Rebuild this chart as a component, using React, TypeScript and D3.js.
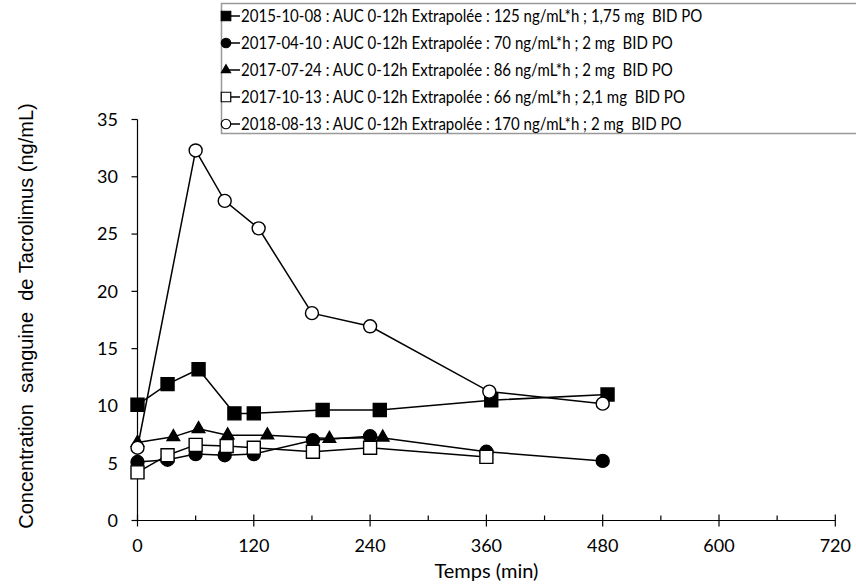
import React, { useRef, useEffect } from 'react';
import * as d3 from 'd3';

// times (min) and concentrations (ng/mL)
const t2015 = [0, 31, 63, 100, 120, 191, 250, 365, 485];
const c2015 = [10.1, 11.9, 13.2, 9.35, 9.35, 9.65, 9.65, 10.5, 11.0];

const t2017a = [0, 31, 60, 90, 120, 181, 240, 360, 480];
const c2017a = [5.1, 5.3, 5.8, 5.7, 5.8, 7.0, 7.35, 6.0, 5.2];

const t2017b = [0, 37, 63, 93, 134, 198, 253];
const c2017b = [6.8, 7.3, 8.0, 7.45, 7.45, 7.15, 7.25];

const t2017c = [0, 31, 60, 92, 120, 181, 240, 360];
const c2017c = [4.2, 5.7, 6.6, 6.5, 6.35, 6.0, 6.35, 5.55];

const t2018 = [0, 60, 90, 125, 180, 240, 363, 480];
const c2018 = [6.35, 32.3, 27.9, 25.5, 18.1, 16.95, 11.25, 10.2];

const seriesLabels = [
  '2015-10-08 : AUC 0-12h Extrapolée : 125 ng/mL*h ; 1,75 mg  BID PO',
  '2017-04-10 : AUC 0-12h Extrapolée : 70 ng/mL*h ; 2 mg  BID PO',
  '2017-07-24 : AUC 0-12h Extrapolée : 86 ng/mL*h ; 2 mg  BID PO',
  '2017-10-13 : AUC 0-12h Extrapolée : 66 ng/mL*h ; 2,1 mg  BID PO',
  '2018-08-13 : AUC 0-12h Extrapolée : 170 ng/mL*h ; 2 mg  BID PO',
];
const seriesShapes = ['square', 'circle', 'triangle', 'square', 'circle'];
const seriesFilled = [true, true, true, false, false];

const xTicks = [0, 120, 240, 360, 480, 600, 720];
const xMinorTicks = [60, 180, 300, 420, 540, 660];
const yTicks = [0, 5, 10, 15, 20, 25, 30, 35];

function App() {
  const svgRef = useRef<SVGSVGElement>(null);

  useEffect(() => {
    const width = 856;
    const height = 588;
    const svg = d3.select(svgRef.current);
    svg.selectAll('*').remove();

    const x = d3.scaleLinear().domain([0, 720]).range([137.5, 835.3]);
    const y = d3.scaleLinear().domain([0, 35]).range([520.5, 119.5]);

    const series = [
      { t: t2015, c: c2015 },
      { t: t2017a, c: c2017a },
      { t: t2017b, c: c2017b },
      { t: t2017c, c: c2017c },
      { t: t2018, c: c2018 },
    ].map((s, i) => ({
      pts: s.t.map((tt, j) => [tt, s.c[j]] as [number, number]),
      shape: seriesShapes[i],
      filled: seriesFilled[i],
      label: seriesLabels[i],
    }));

    const symbolFor = (shape: string, size: number) => {
      if (shape === 'square') return d3.symbol(d3.symbolSquare, size * size)();
      if (shape === 'circle') return d3.symbol(d3.symbolCircle, Math.PI * (size / 2) * (size / 2))();
      return d3.symbol(d3.symbolTriangle, size * size * 0.4)();
    };

    // axes
    const ax = svg.append('g').attr('stroke', '#000').attr('stroke-width', 1.2);
    ax.append('line')
      .attr('x1', x(0)).attr('x2', x(0))
      .attr('y1', y(0)).attr('y2', y(35));
    ax.append('line')
      .attr('x1', x(0)).attr('x2', x(720))
      .attr('y1', y(0)).attr('y2', y(0));
    ax.selectAll('.yt').data(yTicks).join('line')
      .attr('x1', x(0) - 6).attr('x2', x(0))
      .attr('y1', d => y(d)).attr('y2', d => y(d));
    ax.selectAll('.xt').data(xTicks).join('line')
      .attr('x1', d => x(d)).attr('x2', d => x(d))
      .attr('y1', y(0) - 6).attr('y2', y(0) + 6);
    ax.selectAll('.xm').data(xMinorTicks).join('line')
      .attr('x1', d => x(d)).attr('x2', d => x(d))
      .attr('y1', y(0) - 5).attr('y2', y(0));

    const tickFont = 'Lato, "Open Sans", sans-serif';
    svg.append('g').selectAll('text').data(yTicks).join('text')
      .attr('x', 118).attr('y', d => y(d))
      .attr('dy', '0.35em')
      .attr('text-anchor', 'end')
      .style('font-family', tickFont).style('font-size', '18px')
      .text(d => d);
    svg.append('g').selectAll('text').data(xTicks).join('text')
      .attr('x', d => x(d)).attr('y', 552)
      .attr('text-anchor', 'middle')
      .style('font-family', tickFont).style('font-size', '18px')
      .text(d => d);

    svg.append('text')
      .attr('x', x(360)).attr('y', 578)
      .attr('text-anchor', 'middle')
      .style('font-family', tickFont).style('font-size', '20px')
      .text('Temps (min)');

    svg.append('text')
      .attr('transform', `translate(33,${316}) rotate(-90)`)
      .attr('text-anchor', 'middle')
      .style('font-family', '"Liberation Sans", Arial, sans-serif')
      .style('font-size', '20px')
      .style('white-space', 'pre')
      .text('Concentration  sanguine  de Tacrolimus (ng/mL)');

    // series lines and markers
    const line = d3.line<[number, number]>().x(d => x(d[0])).y(d => y(d[1]));
    series.forEach(s => {
      const g = svg.append('g');
      g.append('path')
        .attr('d', line(s.pts))
        .attr('fill', 'none').attr('stroke', '#000').attr('stroke-width', 1.5);
      g.selectAll('path.m').data(s.pts).join('path')
        .attr('class', 'm')
        .attr('transform', d => `translate(${x(d[0])},${y(d[1])})`)
        .attr('d', symbolFor(s.shape, 13))
        .attr('fill', s.filled ? '#000' : '#fff')
        .attr('stroke', '#000').attr('stroke-width', 1.4);
    });

    // legend
    const lg = svg.append('g');
    lg.append('rect')
      .attr('x', 221.5).attr('y', 3.5).attr('width', 640).attr('height', 130)
      .attr('fill', '#fff').attr('stroke', '#999').attr('stroke-width', 1.5);
    const rows = lg.selectAll('g.row').data(series).join('g')
      .attr('class', 'row')
      .attr('transform', (d, i) => `translate(0,${16 + i * 27})`);
    rows.append('line')
      .attr('x1', 224).attr('x2', 240).attr('y1', 0).attr('y2', 0)
      .attr('stroke', '#000').attr('stroke-width', 1.5);
    rows.append('path')
      .attr('transform', 'translate(226,0)')
      .attr('d', d => symbolFor(d.shape, 9.5))
      .attr('fill', d => (d.filled ? '#000' : '#fff'))
      .attr('stroke', '#000').attr('stroke-width', 1.2);
    rows.append('text')
      .attr('x', 241).attr('y', 0).attr('dy', '0.35em')
      .style('font-family', tickFont).style('font-size', '16.5px')
      .style('white-space', 'pre')
      .text(d => d.label)
      .each(function () {
        // Lato runs wider than the original's font: squeeze to match
        const el = this as SVGTextElement;
        const w = el.getComputedTextLength();
        el.setAttribute('textLength', String(w * 0.91));
        el.setAttribute('lengthAdjust', 'spacingAndGlyphs');
      });

    svg.attr('viewBox', [0, 0, width, height].join(' '));
  }, []);

  return (
    <svg
      ref={svgRef}
      width={856}
      height={588}
      style={{ position: 'absolute', left: 0, top: 0, background: '#fff' }}
    />
  );
}

export default App;
